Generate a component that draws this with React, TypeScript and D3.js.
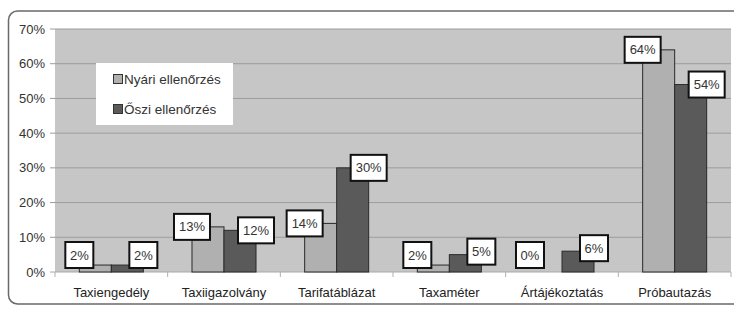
import React from "react";
import * as d3 from "d3";

const categories = ["Taxiengedély", "Taxiigazolvány", "Tarifatáblázat", "Taxaméter", "Ártájékoztatás", "Próbautazás"];
const seriesNames = ["Nyári ellenőrzés", "Őszi ellenőrzés"];
const nyari = [2, 13, 14, 2, 0, 64];
const oszi = [2, 12, 30, 5, 6, 54];
const yTicks = [0, 10, 20, 30, 40, 50, 60, 70];

const W = 734;
const H = 309;
const FONT = "'Liberation Sans', Arial, sans-serif";

export default function App() {
  const left = 55, right = 731, top = 29, bottom = 272;
  const x0 = d3.scaleBand<string>().domain(categories).range([left, right]).paddingInner(0).paddingOuter(0);
  const x1 = d3.scaleBand<string>().domain(seriesNames).range([0, x0.bandwidth()]).paddingInner(0).paddingOuter(0.76);
  const y = d3.scaleLinear().domain([0, 70]).range([bottom, top]);
  const colors = ["#b0b0b0", "#5a5a5a"];
  const data = [nyari, oszi];

  const labels: { cx: number; cy: number; text: string }[] = [];
  categories.forEach((c, i) => {
    data.forEach((vals, s) => {
      const bx = x0(c)! + x1(seriesNames[s])!;
      const v = vals[i];
      const cx = s === 0 ? bx : bx + x1.bandwidth();
      const cy = Math.min(y(v) - (v > 2 && v < 10 ? 3 : 0), bottom - 17);
      labels.push({ cx, cy, text: `${v}%` });
    });
  });

  return (
    <svg width={W} height={H} style={{ position: "absolute", left: 0, top: 0, background: "#fff" }} fontFamily={FONT}>
      <rect x={0} y={0} width={W} height={H} fill="#fff" />
      <rect x={8.5} y={11} width={740} height={293} rx={9} fill="#fff" stroke="#6a6a6a" strokeWidth={1.5} />
      <rect x={left} y={top} width={right - left} height={bottom - top} fill="#c6c6c6" />
      {yTicks.map((t) => (
        <g key={t}>
          <line x1={left - 5} x2={right} y1={y(t)} y2={y(t)} stroke={t === 0 ? "#a8a8a8" : "#9c9c9c"} strokeWidth={1} />
          <text x={45} y={y(t) + 4.5} textAnchor="end" fontSize={13} fill="#333">{`${t}%`}</text>
        </g>
      ))}
      {categories.map((c, i) => (
        <line key={"t" + i} x1={x0(c)!} x2={x0(c)!} y1={bottom} y2={bottom + 5} stroke="#b0b0b0" />
      ))}
      <line x1={right} x2={right} y1={bottom} y2={bottom + 5} stroke="#b0b0b0" />
      {categories.map((c, i) =>
        data.map((vals, s) => (
          <rect
            key={c + s}
            x={x0(c)! + x1(seriesNames[s])!}
            y={y(vals[i])}
            width={x1.bandwidth()}
            height={bottom - y(vals[i])}
            fill={colors[s]}
            stroke="#2a2a2a"
            strokeWidth={1}
          />
        ))
      )}
      {categories.map((c) => (
        <text key={"c" + c} x={x0(c)! + x0.bandwidth() / 2} y={297} textAnchor="middle" fontSize={13} fill="#222">{c}</text>
      ))}
      {labels.map((l, i) => {
        const w = l.text.length * 8 + 12;
        const h = 26;
        return (
          <g key={"l" + i}>
            <rect x={l.cx - w / 2} y={l.cy - h / 2} width={w} height={h} fill="#fff" stroke="#111" strokeWidth={2} />
            <text x={l.cx} y={l.cy + 4.5} textAnchor="middle" fontSize={13} fill="#333">{l.text}</text>
          </g>
        );
      })}
      <rect x={96} y={63} width={137} height={62} fill="#fff" />
      {seriesNames.map((n, s) => (
        <g key={n}>
          <rect x={113.5} y={74.5 + s * 30} width={9} height={9} fill={colors[s]} stroke="#333" strokeWidth={1} />
          <text x={124} y={84 + s * 30} fontSize={13.5} fill="#333">{n}</text>
        </g>
      ))}
    </svg>
  );
}
